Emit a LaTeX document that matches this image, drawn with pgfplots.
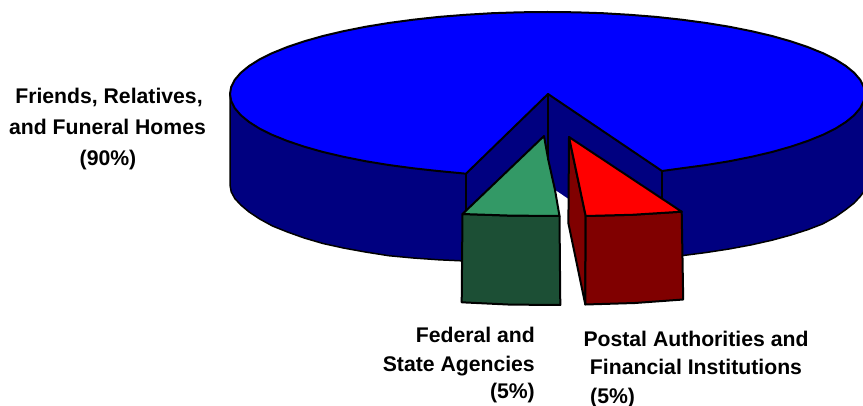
\documentclass[border=0pt]{standalone}
\usepackage{pgfplots}
\pgfplotsset{compat=1.18}
\usepackage{fontspec}
\setmainfont{Liberation Sans}
\definecolor{piebluetop}{HTML}{0000FF}
\definecolor{piebluedark}{HTML}{000080}
\definecolor{piegreentop}{HTML}{339966}
\definecolor{piegreendark}{HTML}{1C4F35}
\definecolor{pieredtop}{HTML}{FF0000}
\definecolor{pieredddark}{HTML}{800000}
\begin{document}
\begin{tikzpicture}
\begin{axis}[
  name=pie,
  scale only axis, width=863pt, height=406pt,
  xmin=0, xmax=863, ymin=0, ymax=406, y dir=reverse,
  axis lines=none, ticks=none,
  every axis plot/.append style={line join=round, line cap=round},
]
% side of the blue slice (fill)
\addplot[draw=none, fill=piebluedark] coordinates {
(230,94)(230,185)(231.2,191.8)(234.8,198.5)(240.8,205)(249.1,212)(259.7,219)(272.5,226)(287.4,232)(304.3,238)(323,243.5)(343.4,248)(365.4,252)(388.7,255.7)(413.3,258)(438.9,259.8)(465.3,261)
(548,185)
(656.1,258.3)(681.7,255.7)(706.3,252.5)(729.6,248.9)(751.6,244.8)(772,240.2)(790.7,235.1)(807.6,229.7)(822.5,224)(835.3,217)(845.9,209.5)(854.2,203)(860.2,196.5)(863.8,191.8)(865,185)(865,94)
} --cycle;
% outer edge of the side
\addplot[black, line width=1.5pt] coordinates {
(230,94)(230,185)(231.2,191.8)(234.8,198.5)(240.8,205)(249.1,212)(259.7,219)(272.5,226)(287.4,232)(304.3,238)(323,243.5)(343.4,248)(365.4,252)(388.7,255.7)(413.3,258)(438.9,259.8)(465.3,261)
};
\addplot[black, line width=1.5pt] coordinates {
(656.1,258.3)(681.7,255.7)(706.3,252.5)(729.6,248.9)(751.6,244.8)(772,240.2)(790.7,235.1)(807.6,229.7)(822.5,224)(835.3,217)(845.9,209.5)(854.2,203)(860.2,196.5)(863.8,191.8)(865,185)
};
% top of the blue slice
\addplot[draw=black, fill=piebluetop, line width=2pt] coordinates {
(662,171)(681.7,168.3)(706.3,165)(729.6,161.2)(751.6,156.8)(772,152)(790.7,146.7)(807.6,141)(822.5,135)(835.3,128.7)(845.9,122)(854.2,115.2)(860.2,108.2)(863.8,101.1)(865,94)
(863.8,86.9)(860.2,79.8)(854.2,72.8)(845.9,66)(835.3,59.3)(822.5,53)(807.6,47)(790.7,41.3)(772,36)(751.6,31.2)(729.6,26.8)(706.3,23)(681.7,19.7)(656.1,16.9)(629.7,14.8)(602.6,13.2)(575.2,12.3)(547.5,12)
(519.8,12.3)(492.4,13.2)(465.3,14.8)(438.9,16.9)(413.3,19.7)(388.7,23)(365.4,26.8)(343.4,31.2)(323,36)(304.3,41.3)(287.4,47)(272.5,53)(259.7,59.3)(249.1,66)(240.8,72.8)(234.8,79.8)(231.2,86.9)(230,94)
(231.2,101.1)(234.8,108.2)(240.8,115.2)(249.1,122)(259.7,128.7)(272.5,135)(287.4,141)(304.3,146.7)(323,152)(343.4,156.8)(365.4,161.2)(388.7,165)(413.3,168.3)(438.9,171.1)(466,173.7)
(548,94)
} --cycle;
% inner edges of the notch
\addplot[black, line width=1.6pt] coordinates {(466,174)(466,262)};
\addplot[black, line width=1.6pt] coordinates {(548,94)(548,185)};
\addplot[black, line width=1.6pt] coordinates {(662,171)(662,258)};
% green slice
\addplot[draw=black, fill=piegreendark, line width=2pt] coordinates {
(462.5,214)(510,215.6)(559.5,216)(560.3,305)(510,304.6)(461.7,302.3)
} --cycle;
\addplot[draw=black, fill=piegreentop, line width=2pt] coordinates {
(462.5,214)(544,136)(548.3,160)(555,190)(559.5,216)(510,215.6)
} --cycle;
% red slice
\addplot[draw=black, fill=pieredddark, line width=2pt] coordinates {
(569,137)(585.7,216)(585.3,304.5)(568.4,223.3)
} --cycle;
\addplot[draw=black, fill=pieredddark, line width=2pt] coordinates {
(585.7,216)(632,214.8)(681.7,211.7)(683.2,299.5)(635,303)(585.3,304.5)
} --cycle;
\addplot[draw=black, fill=pieredtop, line width=2pt] coordinates {
(569,137)(681.7,211.7)(632,214.8)(585.7,216)
} --cycle;
% labels
\begin{scope}[every node/.style={inner sep=0pt, font=\fontsize{21.2}{26}\selectfont\bfseries}]
\node[anchor=base] at (axis cs:109,104) {Friends, Relatives,};
\node[anchor=base] at (axis cs:107.5,134.5) {and Funeral Homes};
\node[anchor=base] at (axis cs:108,166) {(90\%)};
\node[anchor=base east] at (axis cs:535,343) {Federal and};
\node[anchor=base east] at (axis cs:535,372) {State Agencies};
\node[anchor=base east] at (axis cs:535,399) {(5\%)};
\node[anchor=base] at (axis cs:696,347) {Postal Authorities and};
\node[anchor=base] at (axis cs:696,374.5) {Financial Institutions};
\node[anchor=base west] at (axis cs:590,403) {(5\%)};
\end{scope}
\end{axis}
\pgfresetboundingbox
\path[use as bounding box] (pie.south west) rectangle (pie.north east);
\end{tikzpicture}
\end{document}
